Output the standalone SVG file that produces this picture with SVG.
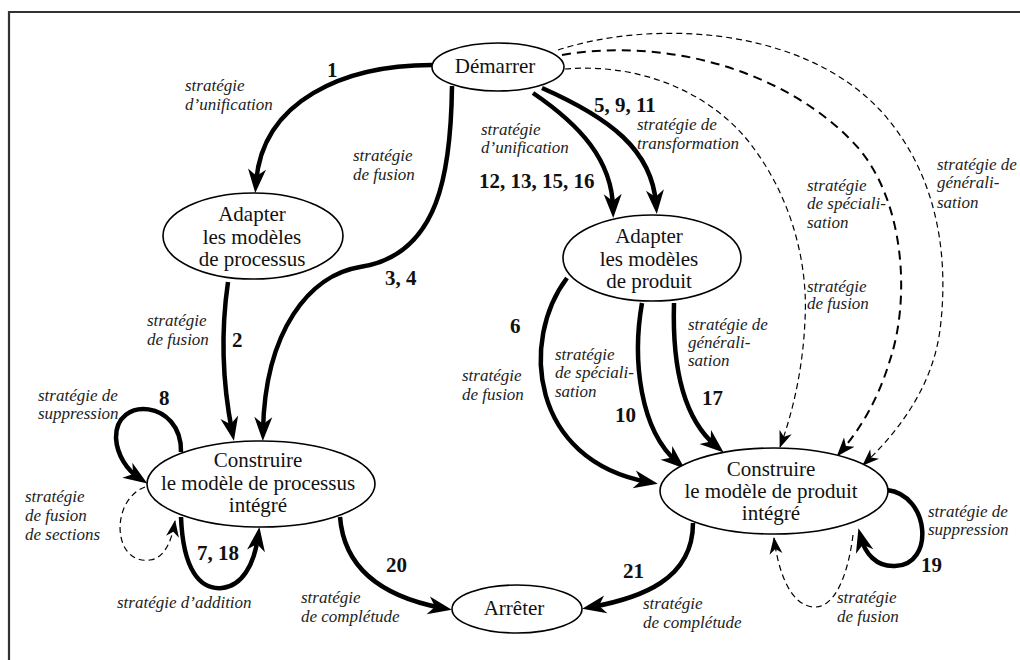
<svg xmlns="http://www.w3.org/2000/svg" width="1020" height="660" viewBox="0 0 1020 660">
  <style>
    .node { fill: #fff; stroke: #000; stroke-width: 1.6; }
    .ntext { font-size: 21px; fill: #111; text-anchor: middle; }
    .lbl { font-size: 17px; font-style: italic; fill: #222; }
    .num { font-size: 21px; font-weight: bold; fill: #111; }
    .thick { fill: none; stroke: #000; stroke-width: 4.5; marker-end: url(#ah); }
    .dash { fill: none; stroke: #000; stroke-width: 1.2; stroke-dasharray: 6 4; marker-end: url(#ahs); }
    .dashb { fill: none; stroke: #000; stroke-width: 2; stroke-dasharray: 9 6; marker-end: url(#ahm); }
    .frame { fill: none; stroke: #333; stroke-width: 2.2; }
  </style>
  <defs>
    <marker id="ah" markerUnits="userSpaceOnUse" markerWidth="30" markerHeight="24" refX="14" refY="9" orient="auto" overflow="visible">
      <path d="M0,0 L24,9 L0,18 L7,9 Z" fill="#000"/>
    </marker>
    <marker id="ahs" markerUnits="userSpaceOnUse" markerWidth="20" markerHeight="16" refX="16" refY="6.5" orient="auto" overflow="visible">
      <path d="M0,0 L17,6.5 L0,13 L5,6.5 Z" fill="#000"/>
    </marker>
    <marker id="ahm" markerUnits="userSpaceOnUse" markerWidth="22" markerHeight="18" refX="17" refY="7" orient="auto" overflow="visible">
      <path d="M0,0 L19,7 L0,14 L5,7 Z" fill="#000"/>
    </marker>
  </defs>

  <rect width="1020" height="660" fill="#fff"/>
  <path class="frame" d="M9,660 L9,12 L1020,12"/>

  <g id="connectors">
    <!-- Démarrer to Adapter processus (1) -->
    <path class="thick" d="M432,65 C 345,65 262,100 256,183"/>
    <!-- Démarrer to Construire processus (3, 4) -->
    <path class="thick" d="M452,86 C 451,170 440,255 360,267 C 310,275 265,330 263,431"/>
    <!-- Adapter processus to Construire processus (2) -->
    <path class="thick" d="M228,282 C 221,330 222,380 232,431"/>
    <!-- loop 8 -->
    <path class="thick" d="M181,452 C 182,400 115,395 116,438 C 117,455 127,470 139,478"/>
    <!-- dashed loop: fusion de sections -->
    <path class="dash" d="M145,487 C 110,500 112,565 150,560 C 165,558 172,540 175,521"/>
    <!-- loop 7, 18 -->
    <path class="thick" d="M181,517 C 183,570 200,590 222,588 C 242,586 254,565 258,537"/>
    <!-- 20 -->
    <path class="thick" d="M340,517 C 345,580 400,600 442,608"/>
    <!-- 21 -->
    <path class="thick" d="M693,523 C 693,580 640,598 592,607"/>
    <!-- 12, 13, 15, 16 -->
    <path class="thick" d="M533,93 C 580,125 612,160 613,208"/>
    <!-- 5, 9, 11 -->
    <path class="thick" d="M542,88 C 610,118 652,150 656,204"/>
    <!-- 6 -->
    <path class="thick" d="M567,278 C 520,340 530,460 648,482"/>
    <!-- 10 -->
    <path class="thick" d="M642,303 C 632,360 640,430 677,462"/>
    <!-- 17 -->
    <path class="thick" d="M674,303 C 672,370 685,420 716,446"/>
    <!-- loop 19 -->
    <path class="thick" d="M887,490 C 930,495 935,565 895,566 C 876,567 865,553 861,538"/>
    <!-- dashed loop: fusion (produit) -->
    <path class="dash" d="M853,535 C 848,575 835,607 815,607 C 790,607 778,570 774,538"/>
    <!-- dashed from Démarrer: généralisation -->
    <path class="dash" d="M558,50 C 650,20 800,25 880,110 C 935,170 950,250 940,330 C 932,390 895,435 863,465"/>
    <!-- dashed from Démarrer: spécialisation -->
    <path class="dashb" d="M562,55 C 680,35 800,80 860,150 C 905,205 910,300 890,360 C 878,400 860,430 838,455"/>
    <!-- dashed from Démarrer: fusion -->
    <path class="dash" d="M565,69 C 650,62 720,100 755,150 C 795,205 808,270 805,320 C 803,370 792,415 780,447"/>
  </g>

  <g font-family="Liberation Serif, DejaVu Serif, serif">
    <g id="n-demarrer">
      <ellipse class="node" cx="498" cy="67" rx="66" ry="24"/>
      <text class="ntext" x="495" y="73">Démarrer</text>
    </g>
    <g id="n-adapter-processus">
      <ellipse class="node" cx="253" cy="236" rx="90" ry="43"/>
      <text class="ntext" x="252" y="221">Adapter</text>
      <text class="ntext" x="252" y="244">les modèles</text>
      <text class="ntext" x="252" y="266">de processus</text>
    </g>
    <g id="n-adapter-produit">
      <ellipse class="node" cx="652" cy="258" rx="89" ry="43"/>
      <text class="ntext" x="649" y="243">Adapter</text>
      <text class="ntext" x="649" y="266">les modèles</text>
      <text class="ntext" x="649" y="288">de produit</text>
    </g>
    <g id="n-construire-processus">
      <ellipse class="node" cx="261" cy="484" rx="114" ry="43"/>
      <text class="ntext" x="258" y="467">Construire</text>
      <text class="ntext" x="258" y="490">le modèle de processus</text>
      <text class="ntext" x="258" y="512">intégré</text>
    </g>
    <g id="n-construire-produit">
      <ellipse class="node" cx="774" cy="491" rx="114" ry="43"/>
      <text class="ntext" x="771" y="476">Construire</text>
      <text class="ntext" x="771" y="498">le modèle de produit</text>
      <text class="ntext" x="771" y="520">intégré</text>
    </g>
    <g id="n-arreter">
      <ellipse class="node" cx="517" cy="609" rx="65" ry="24"/>
      <text class="ntext" x="514" y="615">Arrêter</text>
    </g>

    <g id="labels">
      <text class="lbl" x="185" y="91">stratégie</text>
      <text class="lbl" x="185" y="110">d’unification</text>
      <text class="lbl" x="353" y="161">stratégie</text>
      <text class="lbl" x="353" y="180">de  fusion</text>
      <text class="lbl" x="147" y="326">stratégie</text>
      <text class="lbl" x="147" y="345">de  fusion</text>
      <text class="lbl" x="38" y="401">stratégie de</text>
      <text class="lbl" x="38" y="419">suppression</text>
      <text class="lbl" x="25" y="502">stratégie</text>
      <text class="lbl" x="25" y="521">de fusion</text>
      <text class="lbl" x="25" y="540">de sections</text>
      <text class="lbl" x="117" y="608">stratégie d’addition</text>
      <text class="lbl" x="301" y="603">stratégie</text>
      <text class="lbl" x="301" y="622">de complétude</text>
      <text class="lbl" x="481" y="135">stratégie</text>
      <text class="lbl" x="481" y="153">d’unification</text>
      <text class="lbl" x="637" y="130">stratégie de</text>
      <text class="lbl" x="637" y="149">transformation</text>
      <text class="lbl" x="807" y="191">stratégie</text>
      <text class="lbl" x="807" y="209">de spéciali-</text>
      <text class="lbl" x="807" y="228">sation</text>
      <text class="lbl" x="937" y="170">stratégie de</text>
      <text class="lbl" x="937" y="188">générali-</text>
      <text class="lbl" x="937" y="208">sation</text>
      <text class="lbl" x="807" y="292">stratégie</text>
      <text class="lbl" x="807" y="309">de fusion</text>
      <text class="lbl" x="462" y="381">stratégie</text>
      <text class="lbl" x="462" y="400">de fusion</text>
      <text class="lbl" x="555" y="360">stratégie</text>
      <text class="lbl" x="555" y="378">de spéciali-</text>
      <text class="lbl" x="555" y="397">sation</text>
      <text class="lbl" x="688" y="330">stratégie de</text>
      <text class="lbl" x="688" y="348">générali-</text>
      <text class="lbl" x="688" y="366">sation</text>
      <text class="lbl" x="928" y="517">stratégie de</text>
      <text class="lbl" x="928" y="535">suppression</text>
      <text class="lbl" x="643" y="609">stratégie</text>
      <text class="lbl" x="643" y="628">de complétude</text>
      <text class="lbl" x="837" y="603">stratégie</text>
      <text class="lbl" x="837" y="622">de fusion</text>
    </g>

    <g id="numbers">
      <text class="num" x="327" y="77">1</text>
      <text class="num" x="385" y="285">3, 4</text>
      <text class="num" x="232" y="347">2</text>
      <text class="num" x="159" y="405">8</text>
      <text class="num" x="197" y="560">7, 18</text>
      <text class="num" x="386" y="572">20</text>
      <text class="num" x="479" y="188">12, 13, 15, 16</text>
      <text class="num" x="594" y="112">5, 9, 11</text>
      <text class="num" x="510" y="333">6</text>
      <text class="num" x="615" y="422">10</text>
      <text class="num" x="702" y="405">17</text>
      <text class="num" x="921" y="572">19</text>
      <text class="num" x="623" y="578">21</text>
    </g>
  </g>
</svg>
